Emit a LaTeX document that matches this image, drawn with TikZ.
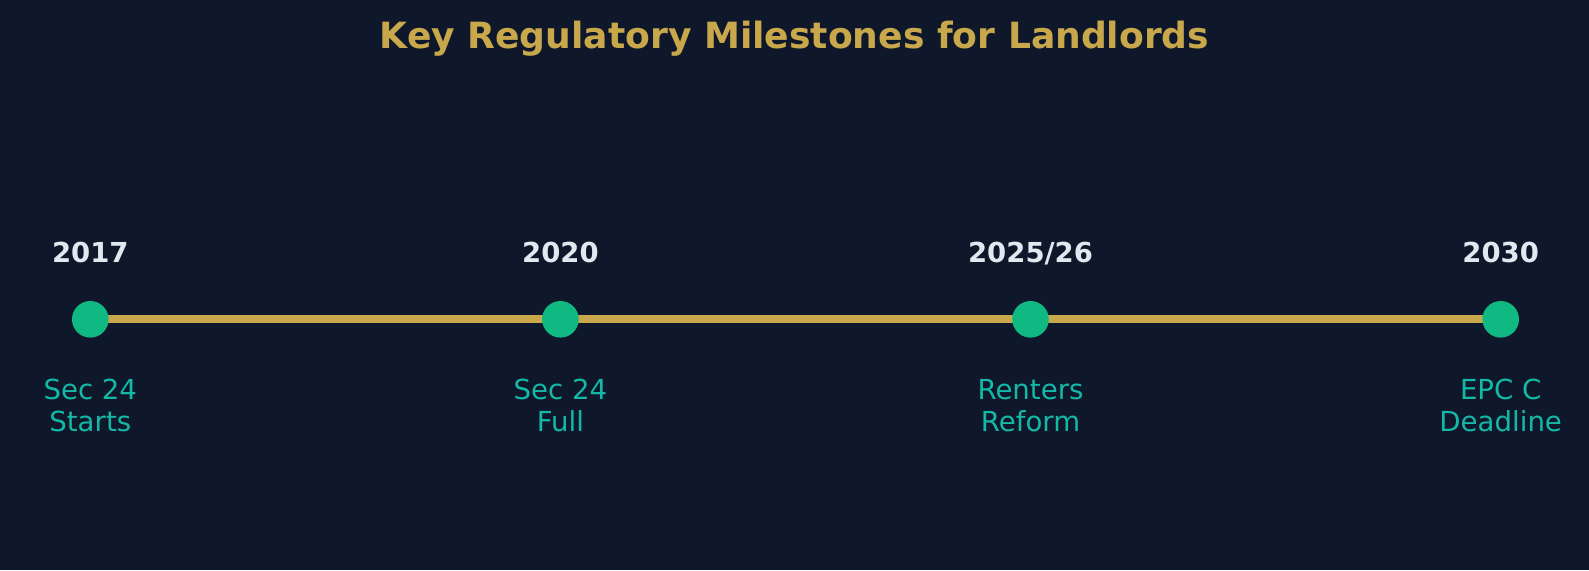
\documentclass[tikz,border=0pt]{standalone}
\usepackage{fontspec}
\setmainfont{DejaVu Sans}
\definecolor{bg}{HTML}{0F172A}
\definecolor{gold}{HTML}{C9A84C}
\definecolor{dot}{HTML}{10B981}
\definecolor{lab}{HTML}{14B8A6}
\definecolor{yr}{HTML}{E2E8F0}
\begin{document}
\begin{tikzpicture}[x=1pt,y=-1pt,
  dotnode/.style={circle,fill=dot,minimum size=36.6pt,inner sep=0pt},
  yearlab/.style={anchor=base,inner sep=0pt,text=yr,font=\fontsize{27.5}{33}\selectfont\bfseries},
  desclab/.style={anchor=base,inner sep=0pt,text=lab,align=center,font=\fontsize{27.6}{32.4}\selectfont},
  titlelab/.style={anchor=base,inner sep=0pt,text=gold,font=\fontsize{36.1}{43}\selectfont\bfseries}]
\fill[bg] (0,0) rectangle (1589,570);
\useasboundingbox (0,0) rectangle (1589,570);
\node[titlelab] (title) at (794.5,48.3) {Key Regulatory Milestones for Landlords};
\coordinate (p1) at (90.3,319.3);
\coordinate (p2) at (560.4,319.3);
\coordinate (p3) at (1030.5,319.3);
\coordinate (p4) at (1500.7,319.3);
\draw[gold,line width=8pt] (p1) -- (p4);
\node[dotnode] (d1) at (p1) {};
\node[dotnode] (d2) at (p2) {};
\node[dotnode] (d3) at (p3) {};
\node[dotnode] (d4) at (p4) {};
\node[yearlab] (y1) at (90.3,262.7) {2017};
\node[yearlab] (y2) at (560.4,262.7) {2020};
\node[yearlab] (y3) at (1030.5,262.7) {2025/26};
\node[yearlab] (y4) at (1500.7,262.7) {2030};
\node[desclab] (l1) at (90.3,431.7) {Sec 24\\Starts};
\node[desclab] (l2) at (560.4,431.7) {Sec 24\\Full};
\node[desclab] (l3) at (1030.5,431.7) {Renters\\Reform};
\node[desclab] (l4) at (1500.7,431.7) {EPC C\\Deadline};
\end{tikzpicture}
\end{document}
